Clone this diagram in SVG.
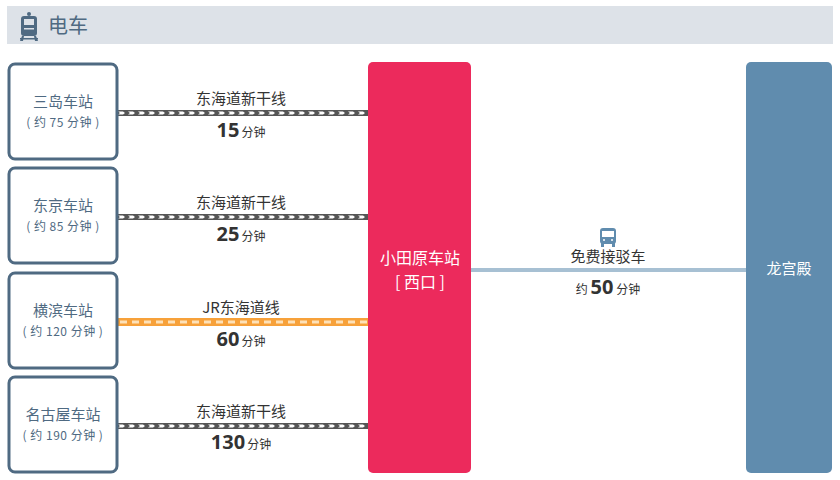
<svg xmlns="http://www.w3.org/2000/svg" width="840" height="480" viewBox="0 0 840 480">
<style>
.t{font-family:"Noto Sans CJK SC","Noto Sans",sans-serif}
.st{fill:#fff;stroke:#4f6a82;stroke-width:3}
.sn{font-size:15px;fill:#4f6a82;text-anchor:middle}
.sm{font-size:12px;fill:#4f6a82;text-anchor:middle;letter-spacing:0.5px}
.ln{font-size:15px;fill:#333;text-anchor:middle}
.big{font-size:20px;font-weight:bold;fill:#333;font-family:"Noto Sans",sans-serif}
.unit{font-size:12px;fill:#333}
.w{fill:#fff;text-anchor:middle}
</style>
<defs>
<pattern id="shk" x="0" y="0" width="10" height="6" patternUnits="userSpaceOnUse">
<rect width="10" height="6" fill="#555"/>
<polygon points="1,1.5 6,1.5 8,3 6,4.5 1,4.5 3,3" fill="#fff"/>
</pattern>
<pattern id="jr" x="0" y="0" width="12" height="8" patternUnits="userSpaceOnUse">
<rect width="12" height="8" fill="#f7a13a"/>
<rect x="3" y="2.5" width="7" height="3" fill="#fde1b8"/>
</pattern>
</defs>
<g id="header">
<rect x="7" y="6" width="826" height="38" fill="#dde2e8"/>
<g fill="#4f6a82">
<circle cx="29" cy="14" r="2"/>
<rect x="21" y="16" width="16" height="20" rx="3"/>
<rect x="24" y="19" width="10" height="6" fill="#dde2e8"/>
<rect x="24" y="28" width="10" height="1.5" fill="#dde2e8"/>
<polygon points="20,41 22,36 24,36 23,41"/>
<polygon points="38,41 36,36 34,36 35,41"/>
<rect x="20" y="38" width="18" height="1.5"/>
</g>
<text class="t" x="48" y="33" font-size="20" fill="#4f6a82">电车</text>
</g>
<g id="connectors">
<rect transform="translate(117,110)" width="251" height="6" fill="url(#shk)"/>
<rect transform="translate(117,214)" width="251" height="6" fill="url(#shk)"/>
<rect transform="translate(117,318)" width="251" height="8" fill="url(#jr)"/>
<rect transform="translate(117,423)" width="251" height="6" fill="url(#shk)"/>
<line x1="471" y1="270" x2="746" y2="270" stroke="#a7c0d3" stroke-width="4"/>
<text class="t ln" x="241" y="104">东海道新干线</text>
<text x="241" y="137" text-anchor="middle"><tspan class="big">15</tspan><tspan class="t unit" dx="2">分钟</tspan></text>
<text class="t ln" x="241" y="208">东海道新干线</text>
<text x="241" y="241" text-anchor="middle"><tspan class="big">25</tspan><tspan class="t unit" dx="2">分钟</tspan></text>
<text class="t ln" x="241" y="313">JR东海道线</text>
<text x="241" y="346" text-anchor="middle"><tspan class="big">60</tspan><tspan class="t unit" dx="2">分钟</tspan></text>
<text class="t ln" x="241" y="417">东海道新干线</text>
<text x="241" y="449" text-anchor="middle"><tspan class="big">130</tspan><tspan class="t unit" dx="2">分钟</tspan></text>
<g fill="#608cae">
<rect x="600" y="228" width="16" height="16" rx="3"/>
<rect x="602" y="231" width="12" height="6" fill="#fff"/>
<circle cx="604" cy="240" r="1" fill="#fff"/>
<circle cx="612" cy="240" r="1" fill="#fff"/>
<rect x="601" y="243" width="3" height="4"/>
<rect x="612" y="243" width="3" height="4"/>
</g>
<text class="t ln" x="608" y="262">免费接驳车</text>
<text x="608" y="294" text-anchor="middle"><tspan class="t unit" font-size="13">约 </tspan><tspan class="big">50</tspan><tspan class="t unit" font-size="13"> 分钟</tspan></text>
</g>
<g id="mishima">
<rect class="st" x="9" y="64" width="108" height="95" rx="6"/>
<text class="t sn" x="63" y="107">三岛车站</text>
<text class="t sm" x="63" y="127">( 约 75 分钟 )</text>
</g>
<g id="tokyo">
<rect class="st" x="9" y="168" width="108" height="95" rx="6"/>
<text class="t sn" x="63" y="211">东京车站</text>
<text class="t sm" x="63" y="231">( 约 85 分钟 )</text>
</g>
<g id="yokohama">
<rect class="st" x="9" y="273" width="108" height="95" rx="6"/>
<text class="t sn" x="63" y="316">横滨车站</text>
<text class="t sm" x="63" y="336">( 约 120 分钟 )</text>
</g>
<g id="nagoya">
<rect class="st" x="9" y="377" width="108" height="95" rx="6"/>
<text class="t sn" x="63" y="420">名古屋车站</text>
<text class="t sm" x="63" y="440">( 约 190 分钟 )</text>
</g>
<g id="odawara">
<rect x="368" y="62" width="103" height="411" rx="5" fill="#ec2a5c"/>
<text class="t w" x="420" y="264" font-size="16">小田原车站</text>
<text class="t w" x="420" y="288" font-size="16">[ 西口 ]</text>
</g>
<g id="ryugu">
<rect x="746" y="62" width="86" height="411" rx="5" fill="#608cae"/>
<text class="t w" x="789" y="274" font-size="15">龙宫殿</text>
</g>
</svg>
